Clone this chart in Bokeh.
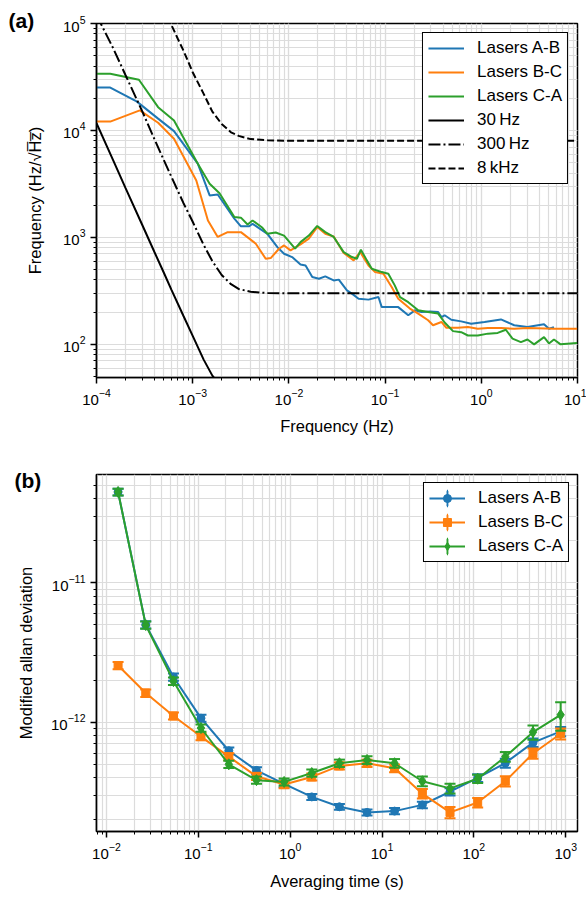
from bokeh.plotting import figure
from bokeh.models import Legend, LegendItem, Label, ColumnDataSource, Spacer
from bokeh.layouts import column
from bokeh.embed import file_html
from bokeh.resources import INLINE

FONT = "Liberation Sans"
C_AB = "#1f77b4"
C_BC = "#ff7f0e"
C_CA = "#2ca02c"

# ---------------- panel (a): frequency noise spectra ----------------
ab_freq = [1.0e-4, 1.39e-4, 2.61e-4, 4.37e-4, 6.39e-4, 1.13e-3, 1.50e-3, 1.82e-3, 2.71e-3, 3.17e-3,
           3.87e-3, 4.19e-3, 5.98e-3, 7.59e-3, 8.90e-3, 1.08e-2, 1.32e-2, 1.49e-2, 1.75e-2, 2.05e-2,
           2.39e-2, 2.92e-2, 3.30e-2, 4.01e-2, 4.52e-2, 5.30e-2, 6.72e-2, 8.53e-2, 9.23e-2, 0.108,
           0.137, 0.174, 0.204, 0.239, 0.291, 0.356, 0.385, 0.416, 0.488, 0.618,
           0.785, 1.08, 1.60, 2.20, 3.02, 4.49, 5.05, 5.69]
ab_asd = [2.52e4, 2.52e4, 1.87e4, 1.29e4, 9.85e3, 4.89e3, 2.47e3, 2.52e3, 1.50e3, 1.27e3,
          1.27e3, 1.34e3, 1.08e3, 811, 704, 655, 559, 547, 426, 411,
          432, 396, 403, 320, 298, 267, 262, 277, 223, 223,
          223, 187, 208, 201, 203, 201, 180, 187, 170, 164,
          156, 162, 171, 151, 145, 154, 140, 145]

bc_freq = [1.0e-4, 1.39e-4, 2.82e-4, 4.37e-4, 6.39e-4, 1.09e-3, 1.44e-3, 1.82e-3, 2.31e-3, 3.17e-3,
           4.53e-3, 5.74e-3, 6.47e-3, 7.90e-3, 8.90e-3, 1.04e-2, 1.32e-2, 1.61e-2, 1.97e-2, 2.39e-2,
           2.92e-2, 3.71e-2, 4.71e-2, 5.51e-2, 6.72e-2, 7.87e-2, 9.60e-2, 0.117, 0.137, 0.181,
           0.221, 0.280, 0.315, 0.385, 0.433, 0.572, 0.726, 0.920, 1.17, 1.60,
           2.20, 3.02, 5.69, 9.93]
bc_asd = [1.21e4, 1.21e4, 1.54e4, 1.18e4, 8.36e3, 3.41e3, 1.44e3, 1.01e3, 1.12e3, 1.12e3,
          873, 632, 641, 784, 841, 756, 861, 973, 1.25e3, 1.08e3,
          1.02e3, 716, 610, 729, 547, 474, 458, 344, 267, 216,
          194, 168, 151, 162, 143, 143, 145, 140, 142, 142,
          140, 142, 140, 140]

ca_freq = [1.0e-4, 1.39e-4, 2.76e-4, 4.37e-4, 6.39e-4, 1.13e-3, 1.50e-3, 1.90e-3, 2.71e-3, 3.17e-3,
           3.72e-3, 4.19e-3, 5.31e-3, 5.98e-3, 7.30e-3, 8.90e-3, 1.16e-2, 1.32e-2, 1.61e-2, 1.97e-2,
           2.39e-2, 2.92e-2, 3.71e-2, 4.52e-2, 5.09e-2, 5.60e-2, 6.46e-2, 7.27e-2, 9.23e-2, 0.108,
           0.126, 0.143, 0.174, 0.221, 0.280, 0.356, 0.416, 0.508, 0.618, 0.726,
           0.920, 1.17, 1.48, 1.80, 2.11, 2.58, 3.02, 3.54, 4.49, 5.05,
           5.69, 6.67, 9.93]
ca_asd = [3.39e4, 3.39e4, 2.98e4, 1.65e4, 1.24e4, 4.89e3, 3.18e3, 2.59e3, 1.55e3, 1.53e3,
          1.32e3, 1.44e3, 1.23e3, 1.08e3, 1.11e3, 1.04e3, 784, 904, 1.04e3, 1.28e3,
          1.12e3, 1.01e3, 729, 655, 632, 767, 610, 509, 474, 458,
          356, 277, 248, 208, 201, 194, 160, 133, 130, 121,
          121, 126, 128, 137, 113, 105, 111, 100, 117, 102,
          111, 100, 103]

# reference linewidth curves
lw30_freq = [1.0e-4, 1.5e-4, 2.0e-4, 3.0e-4, 4.0e-4, 5.0e-4, 6.0e-4, 8.0e-4, 1.0e-3, 1.3e-3, 1.6e-3, 2.0e-3]
lw30_asd = [1.17e4, 5.2e3, 2.9e3, 1.3e3, 730, 470, 325, 185, 120, 72, 51, 40]

lw300_freq = [1.0e-4, 1.5e-4, 2.0e-4, 3.0e-4, 4.0e-4, 5.0e-4, 6.0e-4, 8.0e-4, 1.0e-3, 1.3e-3,
              1.6e-3, 2.0e-3, 2.5e-3, 3.0e-3, 4.0e-3, 6.0e-3, 1.0e-2, 10.0]
lw300_asd = [1.2e5, 5.8e4, 3.3e4, 1.5e4, 8.3e3, 5.3e3, 3.7e3, 2.1e3, 1.4e3, 850,
             600, 445, 365, 330, 310, 302, 300, 300]

lw8k_freq = [5.5e-4, 7.0e-4, 8.0e-4, 1.0e-3, 1.3e-3, 1.6e-3, 2.0e-3, 2.5e-3, 3.0e-3, 4.0e-3,
             6.0e-3, 1.0e-2, 10.0]
lw8k_asd = [1.15e5, 7.2e4, 5.6e4, 3.5e4, 2.2e4, 1.5e4, 1.15e4, 9.6e3, 8.9e3, 8.3e3,
            8.1e3, 8.0e3, 8.0e3]

# ---------------- panel (b): modified Allan deviation ----------------
tau = [0.0134, 0.0268, 0.0537, 0.107, 0.215, 0.43, 0.86, 1.72, 3.44, 6.87,
       13.7, 27.5, 55.0, 110.0, 220.0, 440.0, 880.0]
ab_adev = [4.47e-11, 5.0e-12, 2.11e-12, 1.07e-12, 6.25e-13, 4.52e-13, 3.62e-13, 2.92e-13, 2.48e-13, 2.26e-13,
           2.31e-13, 2.56e-13, 3.18e-13, 3.99e-13, 5.10e-13, 7.15e-13, 8.60e-13]
bc_adev = [2.55e-12, 1.62e-12, 1.11e-12, 7.9e-13, 5.67e-13, 4.10e-13, 3.58e-13, 4.06e-13, 4.87e-13, 5.09e-13,
           4.69e-13, 3.08e-13, 2.26e-13, 2.66e-13, 3.78e-13, 5.98e-13, 8.27e-13]
ca_adev = [4.47e-11, 4.97e-12, 1.97e-12, 9.1e-13, 5.0e-13, 3.85e-13, 3.74e-13, 4.33e-13, 5.09e-13, 5.37e-13,
           5.09e-13, 3.78e-13, 3.36e-13, 3.94e-13, 5.67e-13, 8.5e-13, 1.13e-12]
ab_err = [2.5e-12, 3.0e-13, 1.3e-13, 6e-14, 3.5e-14, 2.5e-14, 2e-14, 1.4e-14, 1.2e-14, 1.1e-14,
          1.2e-14, 1.4e-14, 1.9e-14, 2.6e-14, 3.8e-14, 5.0e-14, 6.5e-14]
bc_err = [1.5e-13, 1.0e-13, 6.5e-14, 4.6e-14, 3.3e-14, 2.4e-14, 2.1e-14, 2.4e-14, 2.9e-14, 3.1e-14,
          3.0e-14, 2.4e-14, 2.1e-14, 2.1e-14, 3.2e-14, 5.0e-14, 7.5e-14]
ca_err = [2.5e-12, 3.0e-13, 1.2e-13, 5.5e-14, 3.0e-14, 2.3e-14, 2.2e-14, 2.6e-14, 3.1e-14, 3.4e-14,
          3.6e-14, 3.0e-14, 2.7e-14, 2.6e-14, 4.5e-14, 1.0e-13, 2.6e-13]


def style(p, ylab_standoff, xlab_standoff):
    p.outline_line_color = "black"
    p.outline_line_width = 1.5
    p.outline_line_alpha = 1.0
    p.background_fill_color = "white"
    p.border_fill_color = "white"
    for ax in p.axis:
        ax.axis_line_width = 1.5
        ax.axis_line_color = "black"
        ax.major_tick_out = 6
        ax.major_tick_in = 0
        ax.minor_tick_out = 3
        ax.minor_tick_in = 0
        ax.major_tick_line_width = 1.5
        ax.minor_tick_line_width = 1.0
        ax.major_label_text_font = FONT
        ax.major_label_text_font_size = "15px"
        ax.major_label_text_color = "black"
        ax.axis_label_text_font = FONT
        ax.axis_label_text_font_style = "normal"
        ax.axis_label_text_font_size = "16.5px"
        ax.axis_label_text_color = "black"
        ax.major_label_standoff = 5
    p.yaxis.axis_label_standoff = ylab_standoff
    p.xaxis.axis_label_standoff = xlab_standoff
    for g in p.grid:
        g.grid_line_color = "#dcdcdc"
        g.grid_line_width = 1.2
        g.minor_grid_line_color = "#dcdcdc"
        g.minor_grid_line_width = 1.2


def style_legend(lg):
    lg.padding = 5
    lg.spacing = 4
    lg.glyph_width = 36
    lg.glyph_height = 20
    lg.label_height = 20
    lg.label_standoff = 13
    lg.label_text_font = FONT
    lg.label_text_font_size = "17px"
    lg.label_text_color = "black"
    lg.border_line_color = "black"
    lg.border_line_width = 1.5
    lg.border_line_alpha = 1.0
    lg.background_fill_color = "white"
    lg.background_fill_alpha = 1.0


def panel_label(text, x, y):
    return Label(x=x, y=y, x_units="screen", y_units="screen", text=text,
                 text_font=FONT, text_font_style="bold", text_font_size="21px",
                 text_baseline="middle", text_align="left", text_color="black")


# ---------- figure (a) ----------
pa = figure(width=586, height=440, x_axis_type="log", y_axis_type="log",
            x_range=(1e-4, 10), y_range=(49, 1e5),
            output_backend="svg", toolbar_location=None,
            min_border_left=93, min_border_right=9, min_border_top=21, min_border_bottom=63)
style(pa, 16, 9)
pa.xaxis.axis_label = "Frequency (Hz)"
pa.yaxis.axis_label = "Frequency (Hz/\u221aH\u0305z\u0305)"

r_ab = pa.line(ab_freq, ab_asd, line_color=C_AB, line_width=2)
r_bc = pa.line(bc_freq, bc_asd, line_color=C_BC, line_width=2)
r_ca = pa.line(ca_freq, ca_asd, line_color=C_CA, line_width=2)
r_30 = pa.line(lw30_freq, lw30_asd, line_color="black", line_width=2)
r_300 = pa.line(lw300_freq, lw300_asd, line_color="black", line_width=2, line_dash="12 3 2 3")
r_8k = pa.line(lw8k_freq, lw8k_asd, line_color="black", line_width=2, line_dash="7 3")

leg_a = Legend(items=[
    LegendItem(label="Lasers A-B", renderers=[r_ab]),
    LegendItem(label="Lasers B-C", renderers=[r_bc]),
    LegendItem(label="Lasers C-A", renderers=[r_ca]),
    LegendItem(label="30\u2009Hz", renderers=[r_30]),
    LegendItem(label="300\u2009Hz", renderers=[r_300]),
    LegendItem(label="8\u2009kHz", renderers=[r_8k]),
], location="top_right")
style_legend(leg_a)
leg_a.margin = 9
pa.add_layout(leg_a)

pa.add_layout(panel_label("(a)", -88, 3), "above")

# ---------- figure (b) ----------
pb = figure(width=586, height=441, x_axis_type="log", y_axis_type="log",
            x_range=(0.0078, 1343), y_range=(1.65e-13, 5.96e-11),
            output_backend="svg", toolbar_location=None,
            min_border_left=96, min_border_right=1, min_border_top=5, min_border_bottom=56)
style(pb, 13, 10)
pb.xaxis.axis_label = "Averaging time (s)"
pb.yaxis.axis_label = "Modified allan deviation"

series = [
    ("Lasers A-B", ab_adev, ab_err, C_AB, "circle", 8),
    ("Lasers B-C", bc_adev, bc_err, C_BC, "square", 8),
    ("Lasers C-A", ca_adev, ca_err, C_CA, "diamond", 11),
]
items_b = []
for name, vals, errs, col, mk, sz in series:
    lo = [v - e for v, e in zip(vals, errs)]
    hi = [v + e for v, e in zip(vals, errs)]
    src = ColumnDataSource(dict(x=tau, y=vals, lo=lo, hi=hi))
    rl = pb.line("x", "y", source=src, line_color=col, line_width=2)
    pb.segment(x0="x", y0="lo", x1="x", y1="hi", source=src, line_color=col, line_width=2)
    pb.scatter("x", "lo", source=src, marker="dash", size=11, line_color=col, line_width=2)
    pb.scatter("x", "hi", source=src, marker="dash", size=11, line_color=col, line_width=2)
    # thin vertical ellipse hidden under the first marker: gives the legend its error-bar stroke
    re = pb.ellipse(x=tau[:1], y=vals[:1], width=0.06, height=6,
                    width_units="screen", height_units="screen",
                    fill_color=None, line_color=col, line_width=2)
    rm = pb.scatter("x", "y", source=src, marker=mk, size=sz, fill_color=col, line_color=col, line_width=1)
    items_b.append(LegendItem(label=name, renderers=[rl, re, rm]))

leg_b = Legend(items=items_b, location="top_right")
style_legend(leg_b)
leg_b.margin = 8
pb.add_layout(leg_b)

pb.add_layout(panel_label("(b)", -82, -6), "above")

layout = column(pa, Spacer(width=586, height=11), pb)
open("out.html", "w").write(file_html(layout, INLINE))
